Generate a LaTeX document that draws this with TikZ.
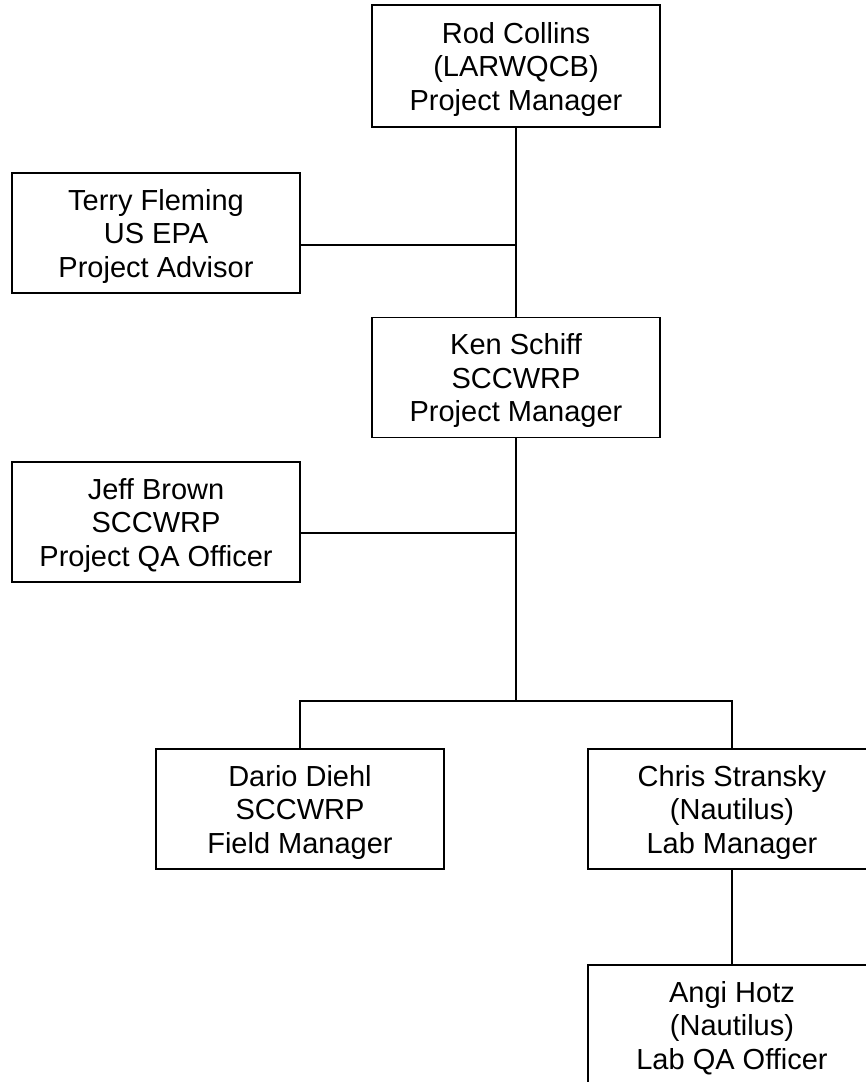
\documentclass[tikz,border=0pt]{standalone}
\usepackage{fontspec}
\setmainfont{Liberation Sans}
\usepackage{tikz}
\usetikzlibrary{positioning}

\begin{document}
\begin{tikzpicture}[x=1pt,y=-1pt,line width=1.4pt,
    person/.style={draw,rectangle,minimum width=288pt,minimum height=120pt,align=center,inner sep=0pt,
      text depth=0pt,font=\fontsize{29}{33.5}\selectfont}]
      \useasboundingbox (0,0) rectangle (866,1082);
      % boxes
      \node[person,minimum height=122pt] (rod) at (516,66) {Rod Collins\\(LARWQCB)\\Project Manager};
      \node[person] (terry) at (156,233) {Terry Fleming\\US EPA\\Project Advisor};
      \node[person] (ken) at (516,377.5) {Ken Schiff\\SCCWRP\\Project Manager};
      \node[person] (jeff) at (156,522) {Jeff Brown\\SCCWRP\\Project QA Officer};
      \node[person] (dario) at (300,809) {Dario Diehl\\SCCWRP\\Field Manager};
      \node[person] (chris) at (732,809) {Chris Stransky\\(Nautilus)\\Lab Manager};
      \node[person] (angi) at (732,1025) {Angi Hotz\\(Nautilus)\\Lab QA Officer};
      % joints
      \coordinate (tj) at (516,245);
      \coordinate (jj) at (516,533);
      \coordinate (split) at (516,701);
      \draw (rod.south) -- (ken.north);
      \draw (terry.east |- tj) -- (tj);
      \draw (jeff.east |- jj) -- (jj);
      \draw (ken.south) -- (split);
      \draw (dario.north) |- (split) -| (chris.north);
      \draw (chris.south) -- (angi.north);
    \end{tikzpicture}
\end{document}
